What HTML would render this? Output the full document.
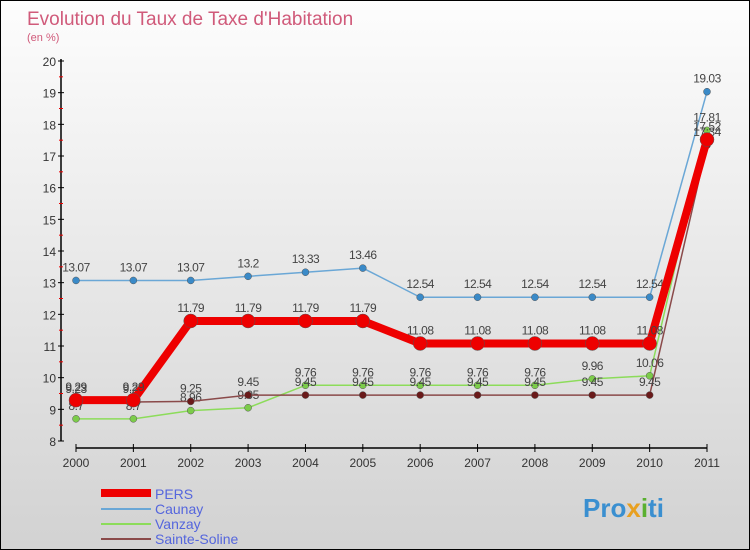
<!DOCTYPE html>
<html><head><meta charset="utf-8"><style>
body{margin:0;}
#wrap{width:748px;height:548px;border:1px solid #000;background:linear-gradient(#fdfdfd,#d2d2d2);position:relative;font-family:"Liberation Sans",sans-serif;overflow:hidden}
</style></head><body>
<div id="wrap">
<svg id="c" width="748" height="548" xmlns="http://www.w3.org/2000/svg">
<text x="26" y="24" font-size="19" fill="#d05a7a">Evolution du Taux de Taxe d'Habitation</text>
<text x="26" y="40" font-size="11" fill="#d05a7a">(en %)</text>
<g id="axes"></g><g id="series"></g>
<g>
<line x1="100" y1="492" x2="150" y2="492" stroke="#e00" stroke-width="8"/>
<text x="154" y="498" font-size="14" fill="#5566dd">PERS</text>
<line x1="100" y1="508" x2="150" y2="508" stroke="#6aa7d6" stroke-width="2"/>
<text x="154" y="513" font-size="14" fill="#5566dd">Caunay</text>
<line x1="100" y1="523" x2="150" y2="523" stroke="#8cdc5a" stroke-width="2"/>
<text x="154" y="528" font-size="14" fill="#5566dd">Vanzay</text>
<line x1="100" y1="538" x2="150" y2="538" stroke="#8a4a4a" stroke-width="2"/>
<text x="154" y="543" font-size="14" fill="#5566dd">Sainte-Soline</text>
</g>
<text x="582" y="516" font-size="26" font-weight="bold" fill="#3a8fd0">Pro<tspan fill="#e8a020">x</tspan><tspan fill="#5ab030">i</tspan>ti</text>
</svg>
</div>
<script>
const years=["2000","2001","2002","2003","2004","2005","2006","2007","2008","2009","2010","2011"];
const yTicks=[8,9,10,11,12,13,14,15,16,17,18,19,20];
const pers=[9.29,9.29,11.79,11.79,11.79,11.79,11.08,11.08,11.08,11.08,11.08,17.52];
const caunay=[13.07,13.07,13.07,13.2,13.33,13.46,12.54,12.54,12.54,12.54,12.54,19.03];
const vanzay=[8.7,8.7,8.96,9.05,9.76,9.76,9.76,9.76,9.76,9.96,10.06,17.81];
const sainte=[9.23,9.23,9.25,9.45,9.45,9.45,9.45,9.45,9.45,9.45,9.45,17.34];
const NS="http://www.w3.org/2000/svg";
const X=i=>75+i*(706-75)/11;
const Y=v=>440-(v-8)*(380/12);
const ax=document.getElementById('axes'),se=document.getElementById('series');
function mk(p,tag,at){const e=document.createElementNS(NS,tag);for(const k in at)e.setAttribute(k,at[k]);p.appendChild(e);return e;}
let l=mk(ax,'line',{x1:60,y1:58,x2:60,y2:440,stroke:'#000','stroke-width':1.5});


yTicks.forEach(t=>{
 let k=mk(ax,'line',{x1:57,x2:63,y1:Y(t),y2:Y(t),stroke:'#000'});
 
 
 if(t<20){let m=mk(ax,'line',{x1:58,x2:62,y1:Y(t+0.5),y2:Y(t+0.5),stroke:'#e00'});
 
 }
 let tx=mk(ax,'text',{x:55,y:Y(t)+5,'text-anchor':'end','font-size':12,fill:'#333'});tx.textContent=t;
 
 
});
let xl=mk(ax,'line',{x1:X(0),y1:447,x2:X(11),y2:447,stroke:'#000','stroke-width':1.5});


years.forEach((y,i)=>{
 let k=mk(ax,'line',{x1:X(i),x2:X(i),y1:443,y2:451,stroke:'#000'});
 
 
 let tx=mk(ax,'text',{x:X(i),y:466,'text-anchor':'middle','font-size':12,fill:'#333'});tx.textContent=y;
 
 
});
function draw(name,d,col,w,r,dot){
 const g=mk(se,'g',{});
 
 
 let pl=mk(g,'polyline',{points:d.map((v,i)=>X(i)+','+Y(v)).join(' '),fill:'none',stroke:col,'stroke-width':w,'stroke-linejoin':'round'});
 
 
 d.forEach((v,i)=>{
  let c=mk(g,'circle',{cx:X(i),cy:Y(v),r:r,fill:dot,stroke:'#555','stroke-width':0.5});
  
  
  let t=mk(g,'text',{x:X(i),y:Y(v)-9,'text-anchor':'middle','font-size':12,fill:'#444','letter-spacing':'-0.5'});t.textContent=v;
  
  
 });
}
draw('caunay',caunay,'#6aa7d6',1.5,3.5,'#3a8ac8');
draw('vanzay',vanzay,'#8cdc5a',1.5,3.5,'#7ccc4a');
draw('sainte-soline',sainte,'#8a4a4a',1.5,3.5,'#6a1a1a');
draw('pers',pers,'#e00',8,7,'#e00');
</script>
</body></html>
